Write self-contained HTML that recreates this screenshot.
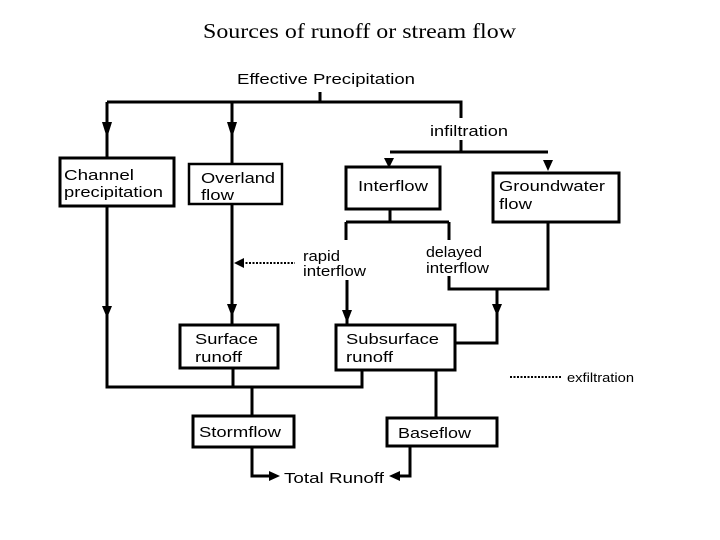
<!DOCTYPE html>
<html><head><meta charset="utf-8"><style>
html,body{margin:0;padding:0;background:#fff;}
svg{display:block;}
text{font-family:"Liberation Sans",sans-serif;font-size:15px;fill:#000;}
</style></head><body>
<svg width="720" height="540" viewBox="0 0 720 540" xmlns="http://www.w3.org/2000/svg">
<text x="203" y="38" style="font-family:'Liberation Serif',serif;font-size:21px" textLength="313" lengthAdjust="spacingAndGlyphs">Sources of runoff or stream flow</text>
<g stroke="#000" stroke-width="3" fill="none">
<path d="M320 92V102M107 102H461V118M461 140V152M390 152H548M107 102V158M232 102V164"/>
<path d="M107 206V387H362V370M232 204V325M233 368V387M252 387V416"/>
<path d="M390 209V222M346 222H449M346 222V240M449 222V240M449 276V289H548V222M497 289V343H455M347 280V325"/>
<path d="M436 370V418M252 447V476H272M410 446V476H396"/>
<rect x="60" y="158" width="114" height="48"/>
<rect x="189" y="164" width="93" height="40" stroke-width="2.5"/>
<rect x="346" y="167" width="94" height="42"/>
<rect x="493" y="173" width="126" height="49"/>
<rect x="180" y="325" width="98" height="43"/>
<rect x="336" y="325" width="119" height="45"/>
<rect x="193" y="416" width="101" height="31"/>
<rect x="387" y="418" width="110" height="28"/>
</g>
<g stroke="#000" stroke-width="2" stroke-dasharray="2,1.5" fill="none">
<path d="M242 263H295M510 377H562"/>
</g>
<g fill="#000">
<polygon points="102,122 112,122 107,138"/>
<polygon points="227,122 237,122 232,138"/>
<polygon points="384,158 394,158 389,168"/>
<polygon points="543,160 553,160 548,171"/>
<polygon points="102,306 112,306 107,318"/>
<polygon points="227,304 237,304 232,317"/>
<polygon points="342,310 352,310 347,323"/>
<polygon points="492,304 502,304 497,316"/>
<polygon points="234,263 244,258 244,268"/>
<polygon points="280,476 269,471 269,481"/>
<polygon points="389,476 400,471 400,481"/>
</g>
<text x="237" y="84" textLength="178" lengthAdjust="spacingAndGlyphs">Effective Precipitation</text>
<text x="430" y="136" textLength="78" lengthAdjust="spacingAndGlyphs">infiltration</text>
<text x="64" y="180" textLength="70" lengthAdjust="spacingAndGlyphs">Channel</text>
<text x="64" y="197" textLength="99" lengthAdjust="spacingAndGlyphs">precipitation</text>
<text x="201" y="183" textLength="74" lengthAdjust="spacingAndGlyphs">Overland</text>
<text x="201" y="200" textLength="33" lengthAdjust="spacingAndGlyphs">flow</text>
<text x="358" y="191" textLength="70" lengthAdjust="spacingAndGlyphs">Interflow</text>
<text x="499" y="191" textLength="106" lengthAdjust="spacingAndGlyphs">Groundwater</text>
<text x="499" y="209" textLength="33" lengthAdjust="spacingAndGlyphs">flow</text>
<text x="303" y="261" textLength="37" lengthAdjust="spacingAndGlyphs">rapid</text>
<text x="303" y="276" textLength="63" lengthAdjust="spacingAndGlyphs">interflow</text>
<text x="426" y="257" textLength="56" lengthAdjust="spacingAndGlyphs">delayed</text>
<text x="426" y="273" textLength="63" lengthAdjust="spacingAndGlyphs">interflow</text>
<text x="195" y="344" textLength="63" lengthAdjust="spacingAndGlyphs">Surface</text>
<text x="195" y="362" textLength="47" lengthAdjust="spacingAndGlyphs">runoff</text>
<text x="346" y="344" textLength="93" lengthAdjust="spacingAndGlyphs">Subsurface</text>
<text x="346" y="362" textLength="47" lengthAdjust="spacingAndGlyphs">runoff</text>
<text x="567" y="382" style="font-size:13px" textLength="67" lengthAdjust="spacingAndGlyphs">exfiltration</text>
<text x="199" y="437" textLength="82" lengthAdjust="spacingAndGlyphs">Stormflow</text>
<text x="398" y="438" textLength="73" lengthAdjust="spacingAndGlyphs">Baseflow</text>
<text x="284" y="483" textLength="100" lengthAdjust="spacingAndGlyphs">Total Runoff</text>
</svg>
</body></html>
